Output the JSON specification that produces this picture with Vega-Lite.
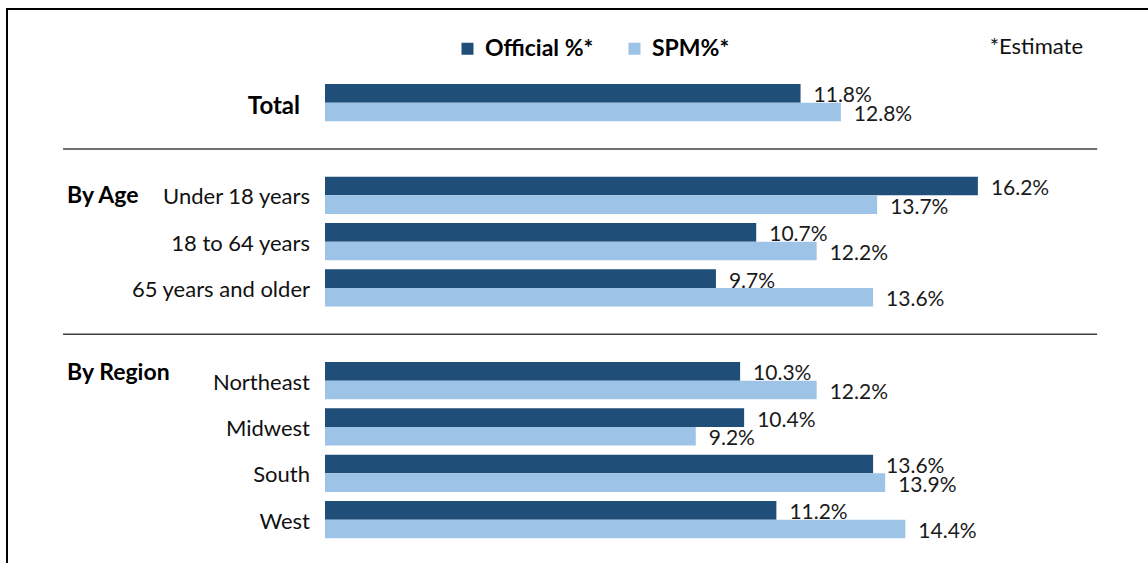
{
  "$schema": "https://vega.github.io/schema/vega-lite/v6.json",
  "width": 1143,
  "height": 556,
  "autosize": {"type": "none"},
  "padding": {"left": 7, "top": 9, "right": 0, "bottom": 0},
  "background": "white",
  "config": {
    "view": {"stroke": "#000000", "strokeWidth": 2},
    "font": "Lato",
    "text": {"font": "Lato"}
  },
  "title": {
    "text": "*Estimate",
    "anchor": "end",
    "frame": "group",
    "orient": "top",
    "offset": -60,
    "dx": -67,
    "baseline": "middle",
    "font": "Lato",
    "fontSize": 22,
    "fontWeight": "normal",
    "color": "#111111"
  },
  "datasets": {
    "bars": [
      {"cat": "Total", "series": "Official %*", "value": 11.8},
      {"cat": "Total", "series": "SPM%*", "value": 12.8},
      {"cat": "Under 18 years", "series": "Official %*", "value": 16.2},
      {"cat": "Under 18 years", "series": "SPM%*", "value": 13.7},
      {"cat": "18 to 64 years", "series": "Official %*", "value": 10.7},
      {"cat": "18 to 64 years", "series": "SPM%*", "value": 12.2},
      {"cat": "65 years and older", "series": "Official %*", "value": 9.7},
      {"cat": "65 years and older", "series": "SPM%*", "value": 13.6},
      {"cat": "Northeast", "series": "Official %*", "value": 10.3},
      {"cat": "Northeast", "series": "SPM%*", "value": 12.2},
      {"cat": "Midwest", "series": "Official %*", "value": 10.4},
      {"cat": "Midwest", "series": "SPM%*", "value": 9.2},
      {"cat": "South", "series": "Official %*", "value": 13.6},
      {"cat": "South", "series": "SPM%*", "value": 13.9},
      {"cat": "West", "series": "Official %*", "value": 11.2},
      {"cat": "West", "series": "SPM%*", "value": 14.4}
    ],
    "cats": [
      {"cat": "Under 18 years"},
      {"cat": "18 to 64 years"},
      {"cat": "65 years and older"},
      {"cat": "Northeast"},
      {"cat": "Midwest"},
      {"cat": "South"},
      {"cat": "West"}
    ],
    "seps": [{"cat": "sep1"}, {"cat": "sep2"}]
  },
  "encoding": {
    "y": {
      "field": "cat",
      "type": "nominal",
      "axis": null,
      "scale": {
        "domain": ["Total", "sep1", "Under 18 years", "18 to 64 years", "65 years and older", "sep2", "Northeast", "Midwest", "South", "West"],
        "paddingInner": 0,
        "paddingOuter": 1.0435,
        "align": 0.7604,
        "round": false
      }
    }
  },
  "layer": [
    {
      "data": {"name": "bars"},
      "mark": {"type": "bar"},
      "encoding": {
        "x": {"field": "value", "type": "quantitative", "axis": null, "scale": {"domain": [-7.891, 20.471], "nice": false, "zero": false}},
        "yOffset": {"field": "series", "type": "nominal", "scale": {"domain": ["Official %*", "SPM%*"], "paddingInner": 0, "paddingOuter": 0.243, "round": false}},
        "color": {
          "field": "series",
          "type": "nominal",
          "scale": {"domain": ["Official %*", "SPM%*"], "range": ["#1F4E79", "#9DC3E6"]},
          "legend": {
            "title": null,
            "orient": "none",
            "legendX": 449,
            "legendY": 28,
            "direction": "horizontal",
            "columns": 2,
            "columnPadding": 29,
            "padding": 0,
            "symbolType": "square",
            "symbolSize": 144,
            "symbolStrokeWidth": 0,
            "labelOffset": 6,
            "labelFont": "Lato",
            "labelFontSize": 23,
            "labelFontWeight": "bold",
            "labelColor": "#000000",
            "labelLimit": 300
          }
        }
      }
    },
    {
      "data": {"name": "bars"},
      "transform": [{"calculate": "format(datum.value, '.1f') + '%'", "as": "lbl"}],
      "mark": {"type": "text", "align": "left", "baseline": "middle", "dx": 13, "dy": 3, "fontSize": 21, "color": "#1a1a1a"},
      "encoding": {
        "x": {"field": "value", "type": "quantitative"},
        "yOffset": {"field": "series", "type": "nominal"},
        "text": {"field": "lbl", "type": "nominal"}
      }
    },
    {
      "data": {"name": "cats"},
      "mark": {"type": "text", "align": "right", "baseline": "middle", "dx": -15, "dy": 2, "fontSize": 22, "color": "#111111"},
      "encoding": {
        "x": {"datum": 0, "type": "quantitative"},
        "text": {"field": "cat", "type": "nominal"}
      }
    },
    {
      "data": {"values": [{"cat": "Total"}]},
      "mark": {"type": "text", "align": "right", "baseline": "middle", "dx": -25, "dy": 4, "fontSize": 24, "fontWeight": "bold", "color": "#000000"},
      "encoding": {
        "x": {"datum": 0, "type": "quantitative"},
        "text": {"field": "cat", "type": "nominal"}
      }
    },
    {
      "data": {"values": [{"cat": "Under 18 years", "group": "By Age"}]},
      "mark": {"type": "text", "align": "left", "baseline": "middle", "dy": 1, "fontSize": 23, "fontWeight": "bold", "color": "#000000"},
      "encoding": {
        "x": {"datum": -6.4, "type": "quantitative"},
        "text": {"field": "group", "type": "nominal"}
      }
    },
    {
      "data": {"values": [{"cat": "Northeast", "group": "By Region"}]},
      "mark": {"type": "text", "align": "left", "baseline": "middle", "dy": -8, "fontSize": 23, "fontWeight": "bold", "color": "#000000"},
      "encoding": {
        "x": {"datum": -6.4, "type": "quantitative"},
        "text": {"field": "group", "type": "nominal"}
      }
    },
    {
      "data": {"name": "seps"},
      "mark": {"type": "rule", "color": "#404040", "strokeWidth": 1.5},
      "encoding": {
        "x": {"datum": -6.5, "type": "quantitative"},
        "x2": {"datum": 19.16}
      }
    }
  ]
}
